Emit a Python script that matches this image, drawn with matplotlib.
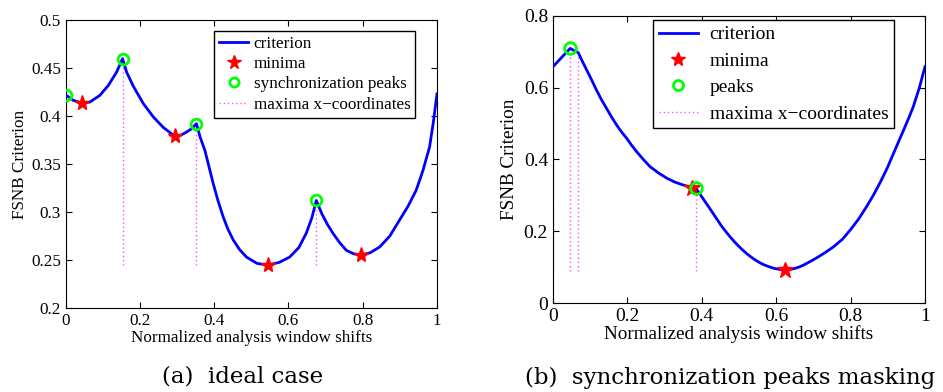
import numpy as np
import matplotlib.pyplot as plt
from matplotlib.lines import Line2D

plt.rcParams['font.family'] = ['Liberation Serif', 'DejaVu Serif']

# (a) ideal case - criterion curve
a_x = [0, 0.0205, 0.043, 0.065, 0.092, 0.115, 0.137, 0.153, 0.164, 0.182, 0.209,
       0.236, 0.263, 0.294, 0.31, 0.3255, 0.34, 0.352, 0.362, 0.375, 0.386, 0.397,
       0.41, 0.424, 0.437, 0.451, 0.468, 0.487, 0.515, 0.545, 0.575, 0.603, 0.628,
       0.648, 0.663, 0.675, 0.69, 0.705, 0.72, 0.738, 0.756, 0.775, 0.794, 0.82,
       0.846, 0.873, 0.899, 0.922, 0.944, 0.962, 0.98, 0.99, 1.0]
a_y = [0.422, 0.4163, 0.4135, 0.4145, 0.4215, 0.432, 0.4457, 0.4597, 0.4457, 0.431,
       0.4129, 0.399, 0.388, 0.3788, 0.380, 0.3833, 0.387, 0.392, 0.378, 0.364, 0.347,
       0.330, 0.312, 0.295, 0.282, 0.271, 0.261, 0.253, 0.2465, 0.2447, 0.2475, 0.253,
       0.263, 0.278, 0.294, 0.312, 0.298, 0.287, 0.2777, 0.268, 0.260, 0.2565, 0.255,
       0.2575, 0.2637, 0.275, 0.2915, 0.306, 0.3227, 0.343, 0.3677, 0.393, 0.423]
a_min_x = [0.043, 0.294, 0.545, 0.794]
a_min_y = [0.4135, 0.3788, 0.2447, 0.255]
a_peak_x = [0, 0.153, 0.352, 0.675]
a_peak_y = [0.422, 0.4597, 0.392, 0.312]
a_vbase = 0.2445

# (b) synchronization peaks masking
b_x = [0, 0.046, 0.068, 0.079, 0.0906, 0.104, 0.117, 0.13, 0.144, 0.157, 0.171, 0.184,
       0.198, 0.211, 0.225, 0.243, 0.261, 0.283, 0.306, 0.328, 0.350, 0.373, 0.384,
       0.397, 0.408, 0.42, 0.431, 0.442, 0.453, 0.465, 0.476, 0.487, 0.498, 0.51,
       0.521, 0.532, 0.543, 0.554, 0.565, 0.58, 0.595, 0.61, 0.624, 0.637, 0.65,
       0.662, 0.673, 0.693, 0.713, 0.733, 0.754, 0.778, 0.80, 0.822, 0.843, 0.862,
       0.88, 0.898, 0.915, 0.93, 0.943, 0.957, 0.9686, 0.985, 1.0]
b_y = [0.658, 0.709, 0.697, 0.673, 0.649, 0.621, 0.593, 0.567, 0.542, 0.519, 0.496,
       0.477, 0.459, 0.440, 0.4216, 0.400, 0.380, 0.363, 0.348, 0.337, 0.329, 0.322,
       0.320, 0.301, 0.284, 0.266, 0.249, 0.232, 0.215, 0.199, 0.185, 0.172, 0.160,
       0.148, 0.138, 0.129, 0.121, 0.114, 0.108, 0.102, 0.097, 0.094, 0.093, 0.094,
       0.097, 0.101, 0.106, 0.117, 0.129, 0.142, 0.157, 0.178, 0.205, 0.235, 0.269,
       0.302, 0.337, 0.375, 0.416, 0.452, 0.483, 0.517, 0.547, 0.600, 0.658]
b_min_x = [0.373, 0.624]
b_min_y = [0.322, 0.093]
b_peak_x = [0.046, 0.384]
b_peak_y = [0.709, 0.320]
b_vx = [0, 0.046, 0.068, 0.385]
b_vy = [0.658, 0.709, 0.697, 0.320]
b_vbase = 0.09

fig = plt.figure(figsize=(9.43, 3.92), dpi=100)
ax1 = fig.add_axes([0.0697, 0.2143, 0.3937, 0.7347])
ax2 = fig.add_axes([0.5864, 0.2263, 0.3945, 0.7337])


def draw(ax, x, y, mx, my, px, py, vx, vy, vbase, fs, ms):
    ax.vlines(vx, vbase, vy, colors=(1, 0.3, 1), linestyles=(0, (1, 2)), lw=1)
    ax.plot(x, y, color='blue', lw=2, zorder=3)
    ax.plot(mx, my, '*', color='red', ms=ms, zorder=4)
    ax.plot(px, py, 'o', mfc='none', mec=(0, 1, 0), mew=2, ms=ms * 0.7, zorder=5)
    ax.set_xlim(0, 1)
    ax.set_xticks([0, 0.2, 0.4, 0.6, 0.8, 1])
    ax.set_xticklabels(['0', '0.2', '0.4', '0.6', '0.8', '1'])
    ax.tick_params(direction='in', top=True, right=True, labelsize=fs, length=4)
    handles = [Line2D([], [], color='blue', lw=2),
               Line2D([], [], ls='none', marker='*', color='red', ms=ms * 0.9),
               Line2D([], [], ls='none', marker='o', mfc='none', mec=(0, 1, 0), mew=2, ms=ms * 0.6),
               Line2D([], [], color=(1, 0.3, 1), ls=(0, (1, 2)), lw=1)]
    return handles


h1 = draw(ax1, a_x, a_y, a_min_x, a_min_y, a_peak_x, a_peak_y,
          a_peak_x, a_peak_y, a_vbase, 12.3, 11)
ax1.set_ylim(0.2, 0.5)
ax1.set_yticks([0.2, 0.25, 0.3, 0.35, 0.4, 0.45, 0.5])
ax1.set_yticklabels(['0.2', '0.25', '0.3', '0.35', '0.4', '0.45', '0.5'])
ax1.set_xlabel('Normalized analysis window shifts', fontsize=12.3, labelpad=1)
ax1.set_ylabel('FSNB Criterion', fontsize=12.3, labelpad=2)
ax1.legend(h1, ['criterion', 'minima', 'synchronization peaks', 'maxima x\u2212coordinates'],
           loc='upper right', bbox_to_anchor=(0.942, 0.963), fontsize=12.3,
           fancybox=False, edgecolor='black', framealpha=1, handlelength=1.7,
           labelspacing=0.25, borderpad=0.3, handletextpad=0.3, borderaxespad=0)
ax1.get_legend().get_frame().set_linewidth(1)

h2 = draw(ax2, b_x, b_y, b_min_x, b_min_y, b_peak_x, b_peak_y,
          b_vx, b_vy, b_vbase, 14, 12)
ax2.set_ylim(0, 0.8)
ax2.set_yticks([0, 0.2, 0.4, 0.6, 0.8])
ax2.set_yticklabels(['0', '0.2', '0.4', '0.6', '0.8'])
ax2.set_xlabel('Normalized analysis window shifts', fontsize=13.8, labelpad=0)
ax2.set_ylabel('FSNB Criterion', fontsize=13.8, labelpad=4)
ax2.legend(h2, ['criterion', 'minima', 'peaks', 'maxima x\u2212coordinates'],
           loc='upper right', bbox_to_anchor=(0.917, 0.985), fontsize=14,
           fancybox=False, edgecolor='black', framealpha=1, handlelength=2.0,
           labelspacing=0.45, borderpad=0.3, handletextpad=0.6, borderaxespad=0)
ax2.get_legend().get_frame().set_linewidth(1)

cap = dict(fontsize=16.5, ha='center', va='center', family=['DejaVu Serif'])
fig.text(243 / 943, 1 - 377 / 392, '(a)  ideal case', **cap)
fig.text(730 / 943, 1 - 378 / 392, '(b)  synchronization peaks masking', **cap)

fig.savefig('out.png', dpi=100)
